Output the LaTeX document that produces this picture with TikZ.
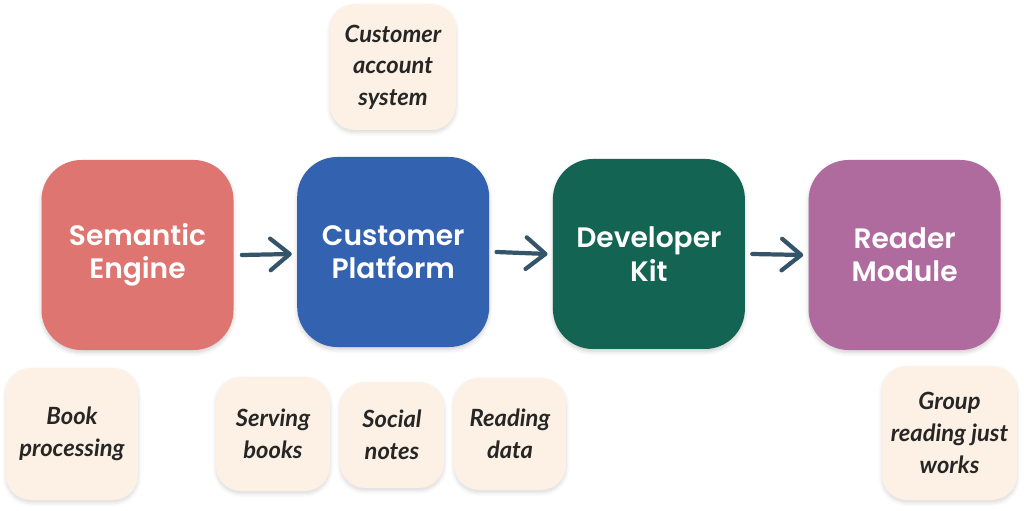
\documentclass[tikz,border=0pt]{standalone}
\usepackage{fontspec}
\setmainfont{Poppins}
\newfontfamily\blockfont{Poppins SemiBold}
\newfontfamily\notefont{Lato}
\usepackage{xcolor}
\usepackage{tikz}
\usetikzlibrary{positioning,calc}
\usetikzlibrary{arrows.meta,shadows.blur}
\definecolor{semred}{HTML}{DE7571}
\definecolor{platblue}{HTML}{3363B0}
\definecolor{devgreen}{HTML}{136452}
\definecolor{readpurple}{HTML}{B06B9E}
\definecolor{notebg}{HTML}{FCF1E4}
\definecolor{notetext}{HTML}{262626}
\definecolor{arrowslate}{HTML}{34546A}
\tikzstyle{block} = [rectangle,rounded corners=0.8cm,minimum width=3.84cm,minimum height=3.8cm,align=center,text=white,font=\blockfont\fontsize{16}{19}\selectfont,blur shadow={shadow xshift=0pt,shadow yshift=-1.5pt,shadow opacity=18,shadow blur steps=6}]
\tikzstyle{note} = [rectangle,rounded corners=0.5cm,fill=notebg,align=center,text=notetext,font=\notefont\bfseries\itshape\fontsize{13.5}{18}\selectfont,blur shadow={shadow xshift=0pt,shadow yshift=-1.5pt,shadow opacity=15,shadow blur steps=6}]
\tikzstyle{line} = [-{Straight Barb[length=11pt,width=18pt,line cap=round,line join=round]},line width=2.4pt,line cap=round,arrowslate]

\begin{document}
\begin{tikzpicture}
        \useasboundingbox (0,0) rectangle (20.48,-10.22);
        % main chain
        \node[block,fill=semred] (se) at (2.75,-5.1) {Semantic\\Engine};
        \node[block,fill=platblue,right=1.26cm of se,yshift=0.06cm] (cp) {Customer\\Platform};
        \node[block,fill=devgreen,right=1.26cm of cp,yshift=-0.04cm] (dk) {Developer\\Kit};
        \node[block,fill=readpurple,right=1.26cm of dk,yshift=-0.02cm] (rm) {Reader\\Module};
        \draw[line] ($(se.east)+(0.16,0)$) -- ($(cp.west)+(-0.1,-0.04)$);
        \draw[line] ($(cp.east)+(0.14,0)$) -- ($(dk.west)+(-0.1,0)$);
        \draw[line] ($(dk.east)+(0.14,0)$) -- ($(rm.west)+(-0.1,0)$);
        % notes
        \node[note,minimum width=2.52cm,minimum height=2.52cm] (cas) at (7.86,-1.34) {Customer\\account\\system};
        \node[note,minimum width=2.64cm,minimum height=2.64cm] (bp) at (1.44,-8.68) {Book\\processing};
        \node[note,minimum width=2.28cm,minimum height=2.28cm] (sb) at (5.46,-8.68) {Serving\\books};
        \node[note,minimum width=2.08cm,minimum height=2.12cm] (sn) at (7.84,-8.70) {Social\\notes};
        \node[note,minimum width=2.24cm,minimum height=2.24cm] (rd) at (10.2,-8.68) {Reading\\data};
        \node[note,minimum width=2.7cm,minimum height=2.68cm] (grw) at (18.99,-8.66) {Group\\reading just\\works};
    \end{tikzpicture}
\end{document}
